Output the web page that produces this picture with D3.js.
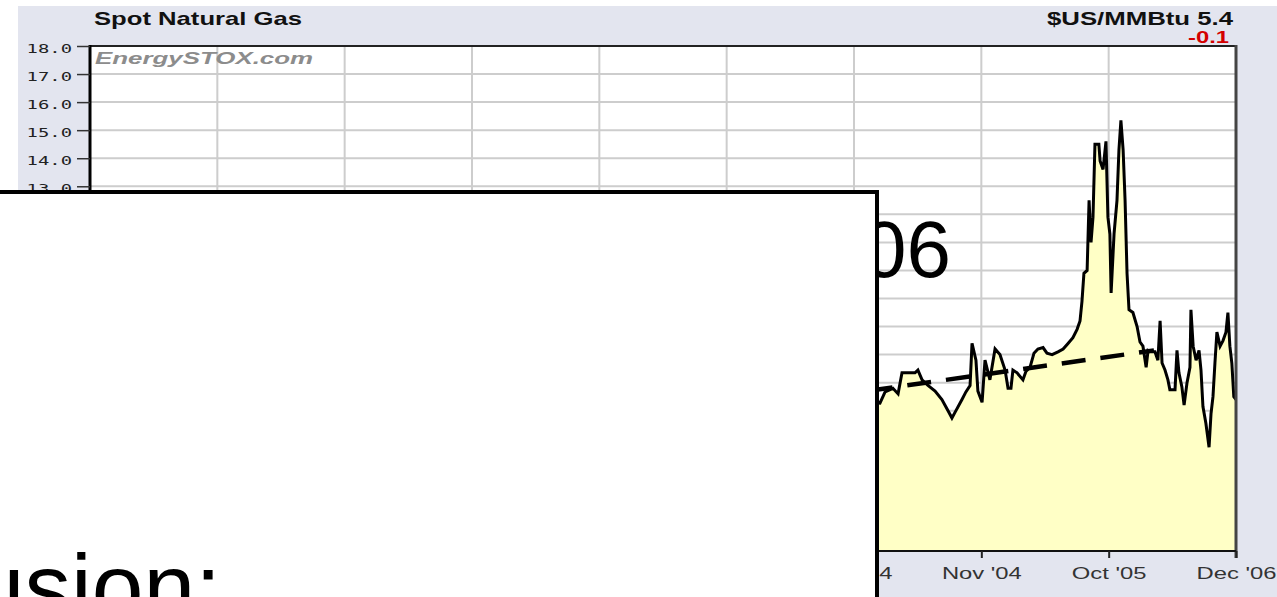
<!DOCTYPE html>
<html>
<head>
<meta charset="utf-8">
<script src="https://cdn.jsdelivr.net/npm/d3@7"></script>
<style>
  body { margin: 0; background: #fff; overflow: hidden; }
  svg { display: block; }
</style>
</head>
<body>
<svg id="chart"></svg>
<script>
// weekly spot price, x = weeks from chart start (52 weeks per grid column)
const weeks = [318, 322.6, 324.7, 327.9, 330.0, 331.6, 336.9, 338.1, 339.8, 342.2, 345.1, 347.9,
  350.4, 352.0, 353.3, 356.1, 357.7, 359.4, 360.2, 361.8, 362.6, 364.3, 365.5, 367.5, 369.6,
  371.6, 373.7, 374.9, 376.1, 376.9, 378.6, 381.0, 382.2, 383.9, 385.5, 387.1, 389.2, 390.8,
  392.9, 395.3, 397.4, 399.4, 401.4, 403.1, 404.3, 405.1, 405.9, 407.2, 408.0, 408.8, 409.6,
  410.4, 412.0, 412.5, 413.7, 414.9, 415.7, 416.5, 417.0, 418.2, 419.4, 420.2, 421.0, 421.9,
  422.7, 423.5, 424.3, 425.9, 427.6, 428.8, 430.0, 431.3, 432.1, 433.7, 434.9, 436.1, 437.0,
  437.8, 439.0, 440.2, 441.0, 443.1, 443.9, 444.7, 445.9, 446.8, 448.0, 449.2, 449.6, 450.5,
  451.7, 452.9, 453.7, 454.5, 455.7, 457.0, 457.8, 458.6, 459.4, 460.2, 461.5, 462.7, 463.9,
  464.7, 465.5, 466.3, 467.1, 468.0];
const prices = [5.3, 5.27, 5.67, 5.8, 5.6, 6.35, 6.35, 6.45, 6.1, 5.9, 5.7, 5.4,
  5.0, 4.74, 4.95, 5.4, 5.67, 5.9, 7.4, 6.8, 5.7, 5.3, 6.8, 6.1, 7.2,
  7.0, 6.45, 5.8, 5.8, 6.45, 6.35, 6.1, 6.4, 6.55, 7.05, 7.2, 7.25, 7.05,
  7.0, 7.1, 7.2, 7.4, 7.6, 7.9, 8.2, 8.9, 9.9, 10.0, 12.5, 11.0, 11.9,
  14.5, 14.5, 13.9, 13.6, 14.6, 11.9, 11.3, 9.2, 11.3, 12.5, 14.3, 15.35, 14.3,
  12.5, 9.9, 8.6, 8.5, 8.0, 7.45, 7.3, 6.55, 7.15, 7.1, 7.1, 6.8, 8.2,
  6.7, 6.45, 6.1, 5.75, 5.75, 7.15, 6.35, 5.85, 5.2, 6.0, 6.55, 8.6, 7.3,
  6.8, 7.15, 6.45, 5.15, 4.55, 3.7, 4.9, 5.5, 6.7, 7.8, 7.3, 7.5, 7.8,
  8.5, 7.3, 6.7, 5.5, 5.4];

// dashed trend line end points
const trendWeeks = [318, 434.5];
const trendPrices = [5.71, 7.15];

const yTicks = d3.range(0, 19);
const gridWeeks = d3.range(52, 468, 52);
const xTickWeeks = [312, 364, 416, 468];
const xTickLabels = ["Jan '04", "Nov '04", "Oct '05", "Dec '06"];

const width = 1277;
const height = 597;
const plot = { left: 90, right: 1236, top: 46, bottom: 551 };

const svg = d3.select('#chart')
  .attr('width', width)
  .attr('height', height);

const x = d3.scaleLinear().domain([0, 468]).range([plot.left, plot.right]);
const y = d3.scaleLinear().domain([0, 18]).range([plot.bottom, plot.top]);

// panel background
svg.append('rect')
  .attr('x', 18).attr('y', 6)
  .attr('width', width - 18).attr('height', height - 6)
  .attr('fill', '#e3e5ef');

svg.append('rect')
  .attr('x', plot.left).attr('y', plot.top)
  .attr('width', plot.right - plot.left).attr('height', plot.bottom - plot.top)
  .attr('fill', '#fff');

// grid
svg.append('g')
  .selectAll('line')
  .data(yTicks.filter(d => d > 0 && d < 18))
  .enter()
  .append('line')
  .attr('x1', plot.left).attr('x2', plot.right)
  .attr('y1', d => y(d)).attr('y2', d => y(d))
  .attr('stroke', '#cdcdcd')
  .attr('stroke-width', 2);

svg.append('g')
  .selectAll('line')
  .data(gridWeeks)
  .enter()
  .append('line')
  .attr('x1', d => x(d)).attr('x2', d => x(d))
  .attr('y1', plot.top).attr('y2', plot.bottom)
  .attr('stroke', '#cdcdcd')
  .attr('stroke-width', 2);

const series = weeks.map((w, i) => ({ w, p: prices[i] }));

const area = d3.area()
  .x(d => x(d.w))
  .y0(y(0))
  .y1(d => y(d.p));

svg.append('path')
  .datum(series)
  .attr('d', area)
  .attr('fill', '#ffffc6');

const line = d3.line()
  .x(d => x(d.w))
  .y(d => y(d.p));

svg.append('path')
  .datum(series)
  .attr('d', line)
  .attr('fill', 'none')
  .attr('stroke', '#000')
  .attr('stroke-width', 3)
  .attr('stroke-linejoin', 'miter');

// trend
svg.append('path')
  .datum(trendWeeks.map((w, i) => ({ w, p: trendPrices[i] })))
  .attr('d', line)
  .attr('fill', 'none')
  .attr('stroke', '#000')
  .attr('stroke-width', 4.5)
  .attr('stroke-dasharray', '24,15');

// frame
svg.append('line')
  .attr('x1', plot.left).attr('x2', plot.right)
  .attr('y1', plot.top).attr('y2', plot.top)
  .attr('stroke', '#222').attr('stroke-width', 2);
svg.append('line')
  .attr('x1', plot.right).attr('x2', plot.right)
  .attr('y1', plot.top - 1).attr('y2', plot.bottom + 7)
  .attr('stroke', '#444').attr('stroke-width', 3);
svg.append('line')
  .attr('x1', plot.left).attr('x2', plot.left)
  .attr('y1', plot.top - 1).attr('y2', plot.bottom + 7)
  .attr('stroke', '#000').attr('stroke-width', 3);
svg.append('line')
  .attr('x1', plot.left).attr('x2', plot.right)
  .attr('y1', plot.bottom).attr('y2', plot.bottom)
  .attr('stroke', '#111').attr('stroke-width', 2);

// y axis
const yAxis = svg.append('g')
  .attr('transform', `translate(${plot.left},0)`)
  .call(d3.axisLeft(y).tickValues(yTicks).tickSize(13).tickFormat(d3.format('.1f')));
yAxis.select('.domain').remove();
yAxis.selectAll('.tick line').attr('stroke', '#333').attr('stroke-width', 1.5);
yAxis.selectAll('.tick text')
  .attr('x', -18 / 1.45)
  .attr('dy', '0.5em')
  .attr('transform', 'scale(1.45,1)')
  .attr('fill', '#222')
  .style('font-family', '"DejaVu Sans Mono", monospace')
  .style('font-size', '13px');

// x axis
const xAxis = svg.append('g')
  .attr('transform', `translate(0,${plot.bottom})`)
  .call(d3.axisBottom(x).tickValues(xTickWeeks).tickSize(7).tickFormat((d, i) => xTickLabels[i]));
xAxis.select('.domain').remove();
xAxis.selectAll('.tick line').attr('stroke', '#222').attr('stroke-width', 2);
xAxis.selectAll('.tick text')
  .attr('y', 28)
  .attr('dy', 0)
  .attr('transform', 'scale(1.4,1)')
  .attr('fill', '#333')
  .style('font-family', '"Liberation Sans", Arial, sans-serif')
  .style('font-size', '17px');

// header
svg.append('text')
  .attr('x', 94).attr('y', 25)
  .attr('textLength', 208).attr('lengthAdjust', 'spacingAndGlyphs')
  .style('font-family', '"Liberation Sans", Arial, sans-serif')
  .style('font-weight', 'bold')
  .style('font-size', '19px')
  .attr('fill', '#111')
  .text('Spot Natural Gas');

svg.append('text')
  .attr('x', 1047).attr('y', 25)
  .attr('textLength', 186).attr('lengthAdjust', 'spacingAndGlyphs')
  .style('font-family', '"Liberation Sans", Arial, sans-serif')
  .style('font-weight', 'bold')
  .style('font-size', '19px')
  .attr('fill', '#111')
  .text('$US/MMBtu 5.4');

svg.append('text')
  .attr('x', 1188).attr('y', 43)
  .attr('textLength', 41).attr('lengthAdjust', 'spacingAndGlyphs')
  .style('font-family', '"Liberation Sans", Arial, sans-serif')
  .style('font-weight', 'bold')
  .style('font-size', '16px')
  .attr('fill', '#d40000')
  .text('-0.1');

svg.append('text')
  .attr('x', 95).attr('y', 64)
  .attr('textLength', 218).attr('lengthAdjust', 'spacingAndGlyphs')
  .style('font-family', '"Liberation Sans", Arial, sans-serif')
  .style('font-weight', 'bold')
  .style('font-style', 'italic')
  .style('font-size', '16px')
  .attr('fill', '#8c8c8c')
  .text('EnergySTOX.com');

// slide overlay: title tail sits under the white text box
svg.append('text')
  .attr('x', 951).attr('y', 277)
  .attr('text-anchor', 'end')
  .style('font-family', '"Liberation Sans", Arial, sans-serif')
  .style('font-size', '80px')
  .attr('fill', '#000')
  .text('06');

svg.append('rect')
  .attr('x', -10).attr('y', 192)
  .attr('width', 887).attr('height', 440)
  .attr('fill', '#fff')
  .attr('stroke', '#000')
  .attr('stroke-width', 4);

svg.append('text')
  .attr('x', 221).attr('y', 619)
  .attr('text-anchor', 'end')
  .style('font-family', '"Liberation Sans", Arial, sans-serif')
  .style('font-size', '93px')
  .attr('fill', '#000')
  .text('Conclusion:');
</script>
</body>
</html>
